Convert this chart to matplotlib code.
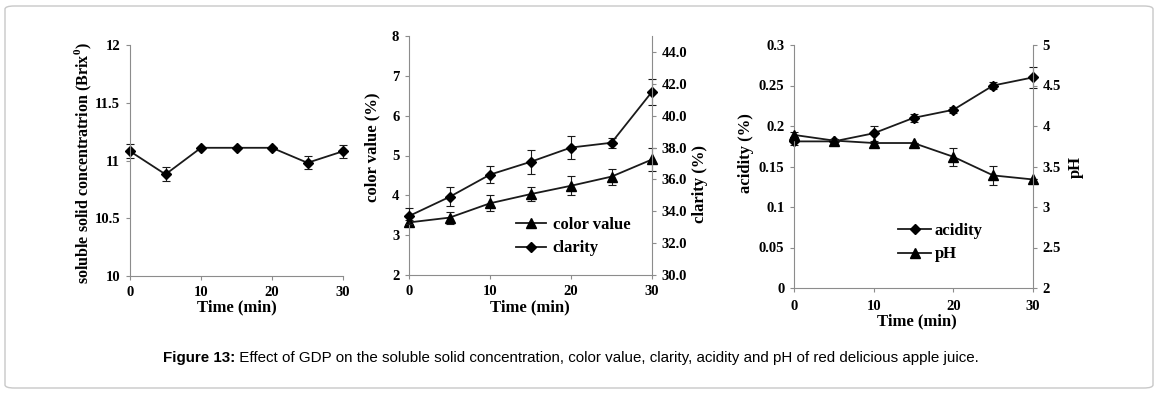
import numpy as np
import matplotlib
matplotlib.use("Agg")
import matplotlib.pyplot as plt
from matplotlib.patches import FancyBboxPatch

W, H = 1160, 393

time = [0, 5, 10, 15, 20, 25, 30]

ssc = [11.08, 10.88, 11.11, 11.11, 11.11, 10.98, 11.08]
ssc_err = [0.06, 0.06, 0.0, 0.0, 0.0, 0.055, 0.055]

color_value = [3.32, 3.44, 3.80, 4.03, 4.24, 4.47, 4.90]
color_err = [0.05, 0.15, 0.2, 0.18, 0.24, 0.2, 0.3]
clarity = [33.7, 34.9, 36.3, 37.1, 38.0, 38.3, 41.5]
clarity_err = [0.5, 0.6, 0.55, 0.75, 0.75, 0.3, 0.8]

acidity = [0.181, 0.181, 0.191, 0.21, 0.22, 0.25, 0.26]
acidity_err = [0.005, 0.003, 0.009, 0.005, 0.004, 0.004, 0.013]
ph = [3.89, 3.82, 3.79, 3.79, 3.62, 3.39, 3.34]
ph_err = [0.03, 0.02, 0.0, 0.0, 0.11, 0.12, 0.0]

caption_bold = "Figure 13:"
caption_rest = (" Effect of GDP on the soluble solid concentration, color value, clarity, "
                "acidity and pH of red delicious apple juice.")

plt.rcParams['font.family'] = ['Liberation Serif', 'DejaVu Serif']
plt.rcParams['font.weight'] = 'bold'
plt.rcParams['axes.labelweight'] = 'bold'
plt.rcParams['mathtext.fontset'] = 'custom'
plt.rcParams['mathtext.rm'] = 'Liberation Serif:bold'
plt.rcParams['mathtext.bf'] = 'Liberation Serif:bold'

SPINE = '#8c8c8c'
LINE = '#1a1a1a'
TICK_FS = 10.5
LAB_FS = 12


def px_rect(l, t, r, b):
    return [l / W, 1 - b / H, (r - l) / W, (b - t) / H]


def fig_pt(x, y):
    return (x / W, 1 - y / H)


def style(ax, right=False):
    for s in ['top', 'right', 'left', 'bottom']:
        ax.spines[s].set_visible(False)
    if right:
        ax.spines['right'].set_visible(True)
        ax.spines['right'].set_color(SPINE)
        ax.tick_params(axis='y', colors=SPINE, labelcolor='black',
                       labelsize=TICK_FS, length=3, pad=4)
    else:
        ax.spines['left'].set_visible(True)
        ax.spines['bottom'].set_visible(True)
        ax.spines['left'].set_color(SPINE)
        ax.spines['bottom'].set_color(SPINE)
        ax.tick_params(colors=SPINE, labelcolor='black', labelsize=TICK_FS,
                       length=3, pad=4)
        ax.set_xlim(0, 30)
        ax.set_xticks([0, 10, 20, 30])


def series(ax, y, err, marker, ms):
    ax.errorbar(time, y, yerr=err, fmt='none', ecolor=LINE, elinewidth=0.8,
                capsize=3, capthick=0.8, clip_on=False)
    ln, = ax.plot(time, y, color=LINE, lw=1.3, marker=marker, ms=ms,
                  mfc='black', mec='black', clip_on=False)
    return ln


fig = plt.figure(figsize=(W / 100, H / 100), dpi=100)

# frame
fig.patches.append(FancyBboxPatch(fig_pt(5, 388), 1148 / W, 382 / H,
                                  boxstyle='round,pad=0,rounding_size=0.008',
                                  transform=fig.transFigure, fill=False,
                                  ec='#c8c8c8', lw=1.0))

# panel 1
ax1 = fig.add_axes(px_rect(130, 45, 343, 276))
style(ax1)
series(ax1, ssc, ssc_err, 'D', 5.5)
ax1.set_ylim(10, 12)
ax1.set_yticks([10, 10.5, 11, 11.5, 12])
ax1.set_yticklabels(['10', '10.5', '11', '11.5', '12'])
ax1.set_xlabel('Time (min)', fontsize=LAB_FS, va='center')
ax1.xaxis.set_label_coords(*fig_pt(237, 307), transform=fig.transFigure)
ax1.set_ylabel(r'soluble solid concentratrion (Brix$^{0}$)', fontsize=11.5,
               va='center', ha='center')
ax1.yaxis.set_label_coords(*fig_pt(83, 163), transform=fig.transFigure)

# panel 2
ax2 = fig.add_axes(px_rect(409, 36, 652, 275))
style(ax2)
ax2b = ax2.twinx()
style(ax2b, right=True)
l_col = series(ax2, color_value, color_err, '^', 7.5)
l_cla = series(ax2b, clarity, clarity_err, 'D', 5.5)
ax2.set_ylim(2, 8)
ax2.set_yticks(range(2, 9))
ax2b.set_ylim(30, 45)
ax2b.set_yticks(range(30, 46, 2))
ax2b.set_yticklabels(['%.1f' % v for v in range(30, 46, 2)])
ax2.set_xlabel('Time (min)', fontsize=LAB_FS, va='center')
ax2.xaxis.set_label_coords(*fig_pt(530, 307), transform=fig.transFigure)
ax2.set_ylabel('color value (%)', fontsize=LAB_FS, va='center', ha='center')
ax2.yaxis.set_label_coords(*fig_pt(372, 147), transform=fig.transFigure)
ax2b.set_ylabel('clarity (%)', fontsize=LAB_FS, va='center', ha='center',
                rotation=90)
ax2b.yaxis.set_label_coords(*fig_pt(700, 184), transform=fig.transFigure)
ax2.legend([l_col, l_cla], ['color value', 'clarity'], frameon=False,
           fontsize=12, loc='upper left', bbox_to_anchor=fig_pt(516, 217),
           bbox_transform=fig.transFigure, borderpad=0, borderaxespad=0,
           handlelength=1.8, handletextpad=0.4, labelspacing=0.45)

# panel 3
ax3 = fig.add_axes(px_rect(794, 45, 1033, 288))
style(ax3)
ax3b = ax3.twinx()
style(ax3b, right=True)
l_ac = series(ax3, acidity, acidity_err, 'D', 5.5)
l_ph = series(ax3b, ph, ph_err, '^', 7.5)
ax3.set_ylim(0, 0.3)
ax3.set_yticks([0, 0.05, 0.1, 0.15, 0.2, 0.25, 0.3])
ax3.set_yticklabels(['0', '0.05', '0.1', '0.15', '0.2', '0.25', '0.3'])
ax3b.set_ylim(2, 5)
ax3b.set_yticks([2, 2.5, 3, 3.5, 4, 4.5, 5])
ax3b.set_yticklabels(['2', '2.5', '3', '3.5', '4', '4.5', '5'])
ax3.set_xlabel('Time (min)', fontsize=LAB_FS, va='center')
ax3.xaxis.set_label_coords(*fig_pt(917, 321), transform=fig.transFigure)
ax3.set_ylabel('acidity (%)', fontsize=LAB_FS, va='center', ha='center')
ax3.yaxis.set_label_coords(*fig_pt(746, 153), transform=fig.transFigure)
ax3b.set_ylabel('pH', fontsize=LAB_FS, va='center', ha='center', rotation=90)
ax3b.yaxis.set_label_coords(*fig_pt(1076, 167), transform=fig.transFigure)
ax3.legend([l_ac, l_ph], ['acidity', 'pH'], frameon=False,
           fontsize=12, loc='upper left', bbox_to_anchor=fig_pt(898, 223),
           bbox_transform=fig.transFigure, borderpad=0, borderaxespad=0,
           handlelength=2.0, handletextpad=0.2, labelspacing=0.45)
ax3.xaxis.set_tick_params(pad=6)

# caption
t1 = fig.text(*fig_pt(163, 358), caption_bold, fontsize=10.9, fontweight='bold',
              family='Liberation Sans', va='center', ha='left')
fig.canvas.draw()
bb = t1.get_window_extent()
fig.text(bb.x1 / W, 1 - 358 / H, caption_rest, fontsize=10.9, fontweight='normal',
         family='Liberation Sans', va='center', ha='left')

fig.savefig('out.png', dpi=100)
